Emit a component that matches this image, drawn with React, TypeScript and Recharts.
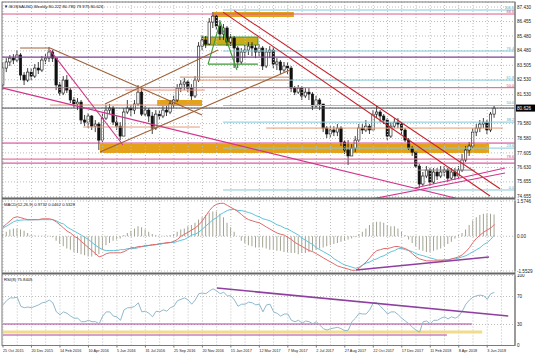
import React from "react";
import {
  Bar,
  CartesianGrid,
  ComposedChart,
  Line,
  ReferenceArea,
  ReferenceLine,
  XAxis,
  YAxis,
} from "recharts";

// weekly candles, index 0 = 25 Oct 2015
const firstOpen = 82.18;
const closes = [
  83.32, 83.73, 83.99, 83.86, 84.2, 82.85, 82.51, 83.05, 82.78, 83.32,
  83.19, 83.86, 83.99, 84.4, 83.99, 82.18, 81.64, 82.51, 81.84, 81.17,
  80.9, 81.03, 79.82, 79.68, 80.09, 79.41, 79.55, 78.47, 79.95, 80.49,
  80.63, 79.68, 79.41, 78.74, 80.36, 80.63, 80.49, 80.9, 81.7, 80.22,
  80.49, 80.09, 79.28, 80.22, 80.09, 80.49, 80.36, 80.9, 81.17, 81.97,
  82.24, 82.38, 81.97, 81.44, 82.51, 84.8, 85.21, 84.94, 86.42, 86.82,
  86.15, 85.61, 86.02, 85.07, 85.34, 84.67, 83.73, 84.4, 84.53, 84.8,
  84.67, 84.4, 84.67, 83.46, 84.4, 84.53, 83.59, 83.73, 83.19, 83.46,
  83.32, 81.97, 81.7, 81.97, 81.44, 81.7, 81.57, 80.76, 81.17, 80.9,
  79.28, 78.88, 79.15, 79.01, 79.28, 78.34, 77.8, 77.4, 77.93, 78.47,
  79.28, 79.15, 79.41, 79.15, 80.22, 80.36, 80.09, 79.82, 78.74, 79.41,
  79.68, 79.55, 79.15, 78.47, 77.93, 77.66, 76.72, 75.51, 76.05, 76.45,
  75.64, 76.32, 76.05, 76.32, 76.45, 75.91, 76.32, 76.05, 76.45, 77.13,
  77.8, 78.07, 79.01, 79.28, 79.55, 79.68, 79.15, 80.222, 80.626,
];
const highs = [
  83.73, 83.99, 84.2, 84.26, 84.53, 84.33, 83.05, 83.32, 83.32, 83.59,
  83.73, 84.13, 84.26, 84.74, 84.53, 83.99, 82.38, 82.78, 82.85, 81.97,
  81.37, 81.3, 81.17, 80.16, 80.29, 80.16, 79.82, 79.68, 80.36, 80.83,
  80.9, 80.76, 80.09, 79.68, 80.63, 81.17, 80.83, 81.17, 82.18, 81.97,
  80.76, 80.63, 80.36, 80.49, 80.49, 80.76, 80.76, 81.17, 81.44, 82.24,
  82.51, 82.65, 82.51, 82.24, 82.78, 85.07, 85.54, 85.48, 86.69, 87.09,
  86.96, 86.55, 86.29, 86.15, 85.61, 85.48, 84.8, 84.67, 84.87, 85.07,
  85.07, 84.87, 84.94, 84.8, 84.67, 84.8, 84.74, 83.99, 83.86, 83.73,
  83.73, 83.46, 82.11, 82.18, 82.11, 81.97, 81.97, 81.7, 81.44, 81.3,
  80.9, 79.41, 79.41, 79.41, 79.55, 79.41, 78.47, 78.47, 78.2, 78.74,
  79.55, 79.55, 79.82, 79.55, 80.49, 80.76, 80.49, 80.22, 79.95, 79.68,
  79.95, 79.95, 79.68, 79.28, 78.61, 78.07, 77.66, 76.86, 76.32, 76.72,
  76.59, 76.59, 76.59, 76.72, 76.72, 76.59, 76.59, 76.59, 76.72, 77.53,
  78.07, 78.34, 79.28, 79.55, 79.82, 79.95, 79.82, 80.36, 80.78,
];
const lows = [
  81.84, 83.05, 83.46, 83.59, 83.73, 82.51, 82.18, 82.38, 82.51, 82.65,
  82.92, 83.05, 83.59, 83.73, 83.73, 81.84, 81.44, 81.5, 81.64, 80.96,
  80.63, 80.49, 79.55, 79.41, 79.28, 79.15, 79.01, 77.8, 78.34, 79.82,
  80.22, 79.48, 79.15, 78.47, 78.74, 80.22, 80.09, 80.22, 80.76, 80.09,
  80.09, 79.68, 78.88, 79.15, 79.82, 79.95, 80.09, 80.22, 80.63, 81.03,
  81.7, 81.84, 81.7, 81.17, 81.3, 82.38, 84.53, 84.67, 84.87, 86.02,
  85.88, 85.21, 85.21, 84.8, 84.8, 83.32, 83.32, 83.59, 83.99, 84.2,
  84.13, 83.99, 84.13, 83.19, 83.32, 83.99, 83.32, 83.19, 82.92, 83.05,
  82.92, 81.7, 81.5, 81.57, 81.17, 81.3, 81.17, 80.49, 80.63, 80.49,
  79.01, 78.61, 78.61, 78.74, 78.74, 78.07, 77.53, 76.79, 77.4, 77.66,
  78.34, 78.88, 79.01, 78.88, 79.15, 79.95, 79.68, 79.55, 78.47, 78.61,
  79.28, 79.28, 78.88, 78.34, 77.8, 77.4, 76.59, 75.24, 75.38, 75.91,
  75.38, 75.51, 75.78, 75.91, 76.05, 75.64, 75.78, 75.78, 75.91, 76.32,
  76.99, 77.4, 77.93, 78.74, 79.01, 79.28, 78.88, 79.01, 79.975,
];

const macdLine = [
  0.41, 0.55, 0.69, 0.83, 0.87, 0.83, 0.78, 0.74, 0.74, 0.74,
  0.74, 0.78, 0.78, 0.78, 0.74, 0.64, 0.51, 0.37, 0.23, 0.14,
  0.0, -0.09, -0.23, -0.37, -0.51, -0.64, -0.78, -0.92, -0.87, -0.78,
  -0.74, -0.74, -0.74, -0.74, -0.69, -0.6, -0.51, -0.51, -0.46, -0.46,
  -0.41, -0.41, -0.37, -0.37, -0.32, -0.32, -0.28, -0.28, -0.23, -0.14,
  0.0, 0.09, 0.18, 0.28, 0.37, 0.51, 0.69, 0.92, 1.15, 1.33,
  1.43, 1.47, 1.47, 1.38, 1.29, 1.2, 1.1, 0.97, 0.83, 0.74,
  0.69, 0.64, 0.6, 0.51, 0.41, 0.32, 0.23, 0.14, 0.09, 0.05,
  -0.05, -0.14, -0.28, -0.37, -0.46, -0.55, -0.64, -0.69, -0.78, -0.87,
  -0.97, -1.06, -1.15, -1.24, -1.33, -1.38, -1.43, -1.47, -1.52, -1.52,
  -1.43, -1.29, -1.15, -0.97, -0.78, -0.64, -0.6, -0.55, -0.55, -0.51,
  -0.46, -0.46, -0.51, -0.55, -0.64, -0.78, -0.92, -1.01, -1.06, -1.1,
  -1.1, -1.1, -1.1, -1.1, -1.06, -1.06, -1.01, -0.97, -0.92, -0.83,
  -0.69, -0.51, -0.28, -0.09, 0.05, 0.18, 0.28, 0.37, 0.53,
];
const signalLine = [
  0.37, 0.45, 0.55, 0.65, 0.7, 0.72, 0.73, 0.73, 0.73, 0.74,
  0.74, 0.74, 0.74, 0.74, 0.74, 0.69, 0.6, 0.55, 0.41, 0.32,
  0.23, 0.14, 0.05, -0.05, -0.14, -0.28, -0.41, -0.51, -0.6, -0.64,
  -0.64, -0.64, -0.64, -0.6, -0.6, -0.55, -0.55, -0.55, -0.51, -0.46,
  -0.46, -0.41, -0.41, -0.37, -0.37, -0.32, -0.32, -0.28, -0.28, -0.23,
  -0.18, -0.14, -0.05, 0.05, 0.09, 0.18, 0.32, 0.46, 0.6, 0.74,
  0.83, 0.97, 1.06, 1.15, 1.2, 1.2, 1.15, 1.15, 1.1, 1.06,
  1.01, 0.92, 0.87, 0.78, 0.74, 0.69, 0.6, 0.51, 0.46, 0.37,
  0.32, 0.23, 0.14, 0.05, -0.09, -0.18, -0.28, -0.37, -0.51, -0.6,
  -0.69, -0.78, -0.87, -1.01, -1.1, -1.2, -1.29, -1.33, -1.38, -1.43,
  -1.38, -1.29, -1.2, -1.15, -1.06, -1.01, -0.92, -0.87, -0.78, -0.69,
  -0.64, -0.55, -0.55, -0.6, -0.64, -0.69, -0.78, -0.83, -0.87, -0.92,
  -0.97, -1.01, -1.06, -1.06, -1.06, -1.06, -1.01, -1.01, -0.97, -0.92,
  -0.87, -0.78, -0.69, -0.6, -0.51, -0.37, -0.28, -0.14, 0.05,
];
const macdHist = [
  0.1, 0.2, 0.3, 0.35, 0.35, 0.3, 0.25, 0.15, 0.05, 0.03,
  0.02, 0.02, 0.03, 0.02, -0.05, -0.2, -0.35, -0.45, -0.55, -0.6,
  -0.7, -0.75, -0.8, -0.85, -0.9, -0.9, -0.85, -0.8, -0.6, -0.4,
  -0.3, -0.2, -0.15, -0.1, 0.05, 0.15, 0.25, 0.35, 0.45, 0.4,
  0.3, 0.2, 0.1, 0.05, 0.02, 0.02, 0.03, 0.05, 0.1, 0.2,
  0.3, 0.35, 0.45, 0.5, 0.6, 0.75, 0.85, 0.95, 1.05, 1.1,
  1.1, 1.0, 0.85, 0.6, 0.4, 0.2, 0.0, -0.2, -0.3, -0.4,
  -0.45, -0.5, -0.5, -0.5, -0.55, -0.6, -0.6, -0.65, -0.65, -0.7,
  -0.7, -0.75, -0.75, -0.8, -0.75, -0.75, -0.7, -0.65, -0.6, -0.55,
  -0.5, -0.45, -0.4, -0.35, -0.3, -0.25, -0.2, -0.15, -0.1, -0.05,
  0.1, 0.2, 0.35, 0.5, 0.6, 0.65, 0.65, 0.6, 0.5, 0.45,
  0.45, 0.35, 0.2, 0.05, -0.15, -0.3, -0.45, -0.6, -0.65, -0.7,
  -0.7, -0.65, -0.6, -0.55, -0.45, -0.35, -0.25, -0.1, 0.05, 0.15,
  0.3, 0.5, 0.7, 0.85, 0.95, 1.0, 1.0, 1.0, 0.97,
];
const rsiLine = [
  58, 64, 68, 68, 69, 56, 54, 55, 54, 56,
  58, 61, 62, 65, 61, 48, 44, 48, 46, 42,
  39, 39, 34, 34, 36, 34, 34, 31, 42, 48,
  48, 42, 41, 36, 51, 54, 54, 56, 61, 48,
  49, 46, 41, 49, 48, 51, 49, 54, 56, 64,
  66, 68, 65, 59, 65, 74, 75, 74, 78, 81,
  78, 74, 76, 71, 71, 65, 56, 59, 59, 62,
  61, 58, 59, 48, 58, 59, 48, 46, 42, 45,
  45, 36, 34, 36, 32, 35, 34, 31, 34, 29,
  24, 22, 24, 25, 26, 24, 21, 22, 34, 39,
  46, 45, 45, 51, 61, 61, 56, 51, 45, 48,
  48, 44, 39, 35, 31, 26, 22, 19, 34, 35,
  31, 36, 36, 39, 41, 38, 41, 39, 42, 49,
  59, 65, 69, 71, 72, 71, 66, 74, 75.84,
];

const dateLabels = [
  "25 Oct 2015", "20 Dec 2015", "14 Feb 2016", "10 Apr 2016", "5 Jun 2016",
  "31 Jul 2016", "25 Sep 2016", "20 Nov 2016", "15 Jan 2017", "12 Mar 2017",
  "7 May 2017", "2 Jul 2017", "27 Aug 2017", "22 Oct 2017", "17 Dec 2017",
  "11 Feb 2018", "8 Apr 2018", "3 Jun 2018",
];
const priceTicks = [
  87.43, 86.455, 85.48, 84.48, 83.505, 82.53, 81.53, 80.626, 79.58, 78.58,
  77.605, 76.63, 75.655, 74.655,
];
const macdTicks = [1.5746, 0, -1.5529];
const rsiTicks = [100, 70, 30, 0];
const lastPrice = 80.626;

// drawn objects on the price panel
const fibBlue = [
  { p: 87.23, t: "100.0" },
  { p: 84.47, t: "76.4" },
  { p: 82.51, t: "61.8" },
  { p: 80.8, t: "50.0" },
  { p: 79.68, t: "38.2" },
  { p: 77.93, t: "23.6" },
  { p: 75.11, t: "0.0" },
];
const fibPink = [
  { p: 86.96, t: "88.6" },
  { p: 82.0, t: "50.0" },
  { p: 77.19, t: "78.6" },
];
const levels = [
  { p: 84.06, from: -0.3, to: 144, color: "#7b3f98", w: 1.4 },
  { p: 78.27, from: -0.3, to: 144, color: "#d2358c", w: 1 },
  { p: 76.92, from: -0.3, to: 144, color: "#d2358c", w: 1 },
  { p: 79.28, from: 73.9, to: 140.4, color: "#e39a78", w: 1 },
  { p: 79.35, from: 22.5, to: 55.3, color: "#e39a78", w: 1 },
  { p: 80.83, from: 13.2, to: 55.3, color: "#e39a78", w: 1 },
  { p: 82.71, from: 49.7, to: 80.6, color: "#c98a6a", w: 1 },
  { p: 82.51, from: 53.9, to: 80.6, color: "#e39a78", w: 1 },
  { p: 81.84, from: 34.3, to: 56.7, color: "#e39a78", w: 1 },
  { p: 84.67, from: 4.8, to: 13.2, color: "#a0623a", w: 1 },
  { p: 76.45, from: 116.6, to: 132.6, color: "#8a8a8a", w: 1 },
  { p: 83.59, from: 57.6, to: 71.6, color: "#3c9a34", w: 1.2 },
];
const zones = [
  { x1: 59.0, x2: 81.7, y1: 86.76, y2: 87.09, fill: "#e3a21a", stroke: "none" },
  { x1: 55.9, x2: 71.6, y1: 84.87, y2: 85.41, fill: "#c9ac1c", stroke: "#3c9a34" },
  { x1: 43.3, x2: 55.9, y1: 80.76, y2: 81.17, fill: "#e3a21a", stroke: "none" },
  { x1: 27.25, x2: 136.5, y1: 77.6, y2: 78.2, fill: "#e3a21a", stroke: "none" },
];
const trendLines = [
  { a: [0, 81.97], b: [127, 74.57], color: "#d2358c" },
  { a: [13.2, 84.53], b: [33.7, 78.14], color: "#d2358c" },
  { a: [13.2, 84.67], b: [55.9, 80.16], color: "#a0623a" },
  { a: [27.25, 77.66], b: [80.6, 83.19], color: "#a0623a" },
  { a: [28.65, 80.9], b: [60.4, 84.53], color: "#a0623a" },
  { a: [64.9, 87.19], b: [139.6, 75.19], color: "#c8202a" },
  { a: [61.8, 87.09], b: [136.8, 74.7], color: "#c8202a" },
  { a: [102, 74.43], b: [141, 76.25], color: "#d2358c" },
  { a: [115.7, 75.24], b: [141, 76.59], color: "#d2358c" },
  { a: [57.6, 83.59], b: [61, 86.42], color: "#3c9a34" },
  { a: [61, 86.42], b: [65.7, 83.19], color: "#3c9a34" },
];
const macdTrend = { a: [99.2, -1.51], b: [136.5, -0.93] };
const rsiTrend = { a: [60.1, 82.1], b: [141.9, 42.1] };
const rsiLevels = [
  { v: 30.7, to: 131.7, color: "#b0409a", w: 1.2 },
  { v: 19.3, to: 134.6, color: "#f2dc8a", w: 3 },
  { v: 15, to: 124.7, color: "#b0409a", w: 1.2 },
];

const X_DOMAIN: [number, number] = [-0.28, 143.8];
const gridWeeks = Array.from({ length: 36 }, (_, k) => k * 4);

const rows = closes.map((c, i) => {
  const o = i === 0 ? firstOpen : closes[i - 1];
  return {
    i,
    open: o,
    close: c,
    high: Math.max(highs[i], o, c),
    low: Math.min(lows[i], o, c),
    macd: macdLine[i],
    signal: signalLine[i],
    hist: macdHist[i],
    rsi: rsiLine[i],
  };
});

const Candle = (props: any) => {
  const { x, y, width, height, payload } = props;
  const top = height < 0 ? y + height : y;
  const h = Math.abs(height);
  const { open, close, high, low } = payload;
  const k = h / (high - low || 1);
  const cx = x + width / 2;
  const bTop = top + (high - Math.max(open, close)) * k;
  const bBot = top + (high - Math.min(open, close)) * k;
  const up = close >= open;
  return (
    <g>
      <line x1={cx} x2={cx} y1={top} y2={top + h} stroke="#111" strokeWidth={0.8} />
      <rect
        x={cx - 1.2}
        y={bTop}
        width={2.4}
        height={Math.max(bBot - bTop, 0.6)}
        fill={up ? "#fff" : "#111"}
        stroke="#111"
        strokeWidth={0.6}
      />
    </g>
  );
};

const PriceTick = ({ x, y, payload }: any) => {
  const v = payload.value;
  if (v === lastPrice) {
    return (
      <g>
        <rect x={x - 1} y={y - 3.5} width={19} height={7} fill="#000" />
        <text x={x} y={y + 1.6} fontSize={4.6} fill="#fff">
          {v.toFixed(3)}
        </text>
      </g>
    );
  }
  return (
    <text x={x} y={y + 1.6} fontSize={4.6} fill="#222">
      {v.toFixed(3)}
    </text>
  );
};

const SideTick = ({ x, y, payload, fmt }: any) => (
  <text x={x} y={y + 1.6} fontSize={4.6} fill="#222">
    {fmt(payload.value)}
  </text>
);

const DateTick = ({ x, y, payload }: any) => (
  <text x={x} y={y + 4} fontSize={3.8} fill="#222">
    {dateLabels[payload.value / 8]}
  </text>
);

const vGrid = (key: string) =>
  gridWeeks.map((w) => (
    <ReferenceLine
      key={key + w}
      x={w}
      stroke="#bdbdbd"
      strokeDasharray="1 2"
      ifOverflow="hidden"
    />
  ));

const App = () => {
  return (
    <div
      style={{
        position: "absolute",
        left: 0,
        top: 0,
        width: 536,
        height: 358,
        background: "#fff",
        fontFamily: "'Liberation Sans', Arial, sans-serif",
      }}
    >
      <div style={{ position: "absolute", left: 0, top: 0 }}>
        <ComposedChart
          width={536}
          height={199}
          data={rows}
          margin={{ top: 2, right: 0, bottom: 1, left: 2 }}
        >
          <CartesianGrid vertical={false} stroke="#bdbdbd" strokeDasharray="1 2" />
          {vGrid("p")}
          <XAxis type="number" dataKey="i" domain={X_DOMAIN} allowDataOverflow hide />
          <YAxis
            orientation="right"
            type="number"
            domain={[74.57, 87.77]}
            allowDataOverflow
            ticks={priceTicks}
            interval={0}
            width={21}
            tickLine={false}
            tickSize={1}
            tickMargin={1}
            axisLine={{ stroke: "#777" }}
            tick={<PriceTick />}
          />
          {zones.map((z, k) => (
            <ReferenceArea
              key={"z" + k}
              x1={z.x1}
              x2={z.x2}
              y1={z.y1}
              y2={z.y2}
              fill={z.fill}
              fillOpacity={1}
              stroke={z.stroke}
              ifOverflow="hidden"
            />
          ))}
          {fibBlue.map((f) => (
            <ReferenceLine
              key={"fb" + f.t}
              segment={[
                { x: 61.8, y: f.p },
                { x: 143.8, y: f.p },
              ]}
              stroke="#86c9d8"
              ifOverflow="hidden"
              label={{ value: f.t, position: "insideBottomRight", fontSize: 3.8, fill: "#5aa8bd", offset: 1 }}
            />
          ))}
          {fibPink.map((f) => (
            <ReferenceLine
              key={"fp" + f.t}
              y={f.p}
              stroke="#de5b86"
              ifOverflow="hidden"
              label={{ value: f.t, position: "insideBottomRight", fontSize: 3.8, fill: "#d24a78", offset: 1 }}
            />
          ))}
          {levels.map((l, k) => (
            <ReferenceLine
              key={"l" + k}
              segment={[
                { x: l.from, y: l.p },
                { x: l.to, y: l.p },
              ]}
              stroke={l.color}
              strokeWidth={l.w}
              ifOverflow="hidden"
            />
          ))}
          <ReferenceLine y={lastPrice} stroke="#4a4a55" ifOverflow="hidden" />
          {trendLines.map((t, k) => (
            <ReferenceLine
              key={"t" + k}
              segment={[
                { x: t.a[0], y: t.a[1] },
                { x: t.b[0], y: t.b[1] },
              ]}
              stroke={t.color}
              strokeWidth={1.1}
              ifOverflow="hidden"
            />
          ))}
          <Bar
            dataKey={(d: any) => [d.low, d.high]}
            barSize={3}
            shape={<Candle />}
            isAnimationActive={false}
          />
        </ComposedChart>
      </div>

      <div style={{ position: "absolute", left: 0, top: 199 }}>
        <ComposedChart
          width={536}
          height={75}
          data={rows}
          margin={{ top: 2, right: 0, bottom: 3, left: 2 }}
        >
          <CartesianGrid vertical={false} stroke="#bdbdbd" strokeDasharray="1 2" />
          {vGrid("m")}
          <XAxis type="number" dataKey="i" domain={X_DOMAIN} allowDataOverflow hide />
          <YAxis
            orientation="right"
            type="number"
            domain={[-1.5529, 1.5746]}
            allowDataOverflow
            ticks={macdTicks}
            interval={0}
            width={21}
            tickLine={false}
            tickSize={1}
            tickMargin={1}
            axisLine={{ stroke: "#777" }}
            tick={<SideTick fmt={(v: number) => (v === 0 ? "0.00" : v.toFixed(4))} />}
          />
          <Bar dataKey="hist" barSize={1} fill="#a3a393" isAnimationActive={false} />
          <Line
            type="linear"
            dataKey="signal"
            stroke="#5ec4dc"
            strokeWidth={1}
            dot={false}
            activeDot={false}
            isAnimationActive={false}
          />
          <Line
            type="linear"
            dataKey="macd"
            stroke="#e06a6a"
            strokeWidth={1}
            dot={false}
            activeDot={false}
            isAnimationActive={false}
          />
          <ReferenceLine
            segment={[
              { x: macdTrend.a[0], y: macdTrend.a[1] },
              { x: macdTrend.b[0], y: macdTrend.b[1] },
            ]}
            stroke="#8e3fa0"
            strokeWidth={1.6}
            ifOverflow="hidden"
          />
        </ComposedChart>
      </div>

      <div style={{ position: "absolute", left: 0, top: 274 }}>
        <ComposedChart
          width={536}
          height={84}
          data={rows}
          margin={{ top: 1.5, right: 0, bottom: 0, left: 2 }}
        >
          <CartesianGrid vertical={false} stroke="#bdbdbd" strokeDasharray="1 2" />
          {vGrid("r")}
          <XAxis
            type="number"
            dataKey="i"
            domain={X_DOMAIN}
            allowDataOverflow
            ticks={dateLabels.map((_, k) => k * 8)}
            interval={0}
            height={12.5}
            tickLine={{ stroke: "#777" }}
            tickSize={2}
            tickMargin={0}
            axisLine={{ stroke: "#777" }}
            tick={<DateTick />}
          />
          <YAxis
            orientation="right"
            type="number"
            domain={[0, 100]}
            allowDataOverflow
            ticks={rsiTicks}
            interval={0}
            width={21}
            tickLine={false}
            tickSize={1}
            tickMargin={1}
            axisLine={{ stroke: "#777" }}
            tick={<SideTick fmt={(v: number) => String(v)} />}
          />
          {rsiLevels.map((l, k) => (
            <ReferenceLine
              key={"rl" + k}
              segment={[
                { x: 0, y: l.v },
                { x: l.to, y: l.v },
              ]}
              stroke={l.color}
              strokeWidth={l.w}
              ifOverflow="hidden"
            />
          ))}
          <Line
            type="linear"
            dataKey="rsi"
            stroke="#8fb9cc"
            strokeWidth={1}
            dot={false}
            activeDot={false}
            isAnimationActive={false}
          />
          <ReferenceLine
            segment={[
              { x: rsiTrend.a[0], y: rsiTrend.a[1] },
              { x: rsiTrend.b[0], y: rsiTrend.b[1] },
            ]}
            stroke="#8e3fa0"
            strokeWidth={1.6}
            ifOverflow="hidden"
          />
        </ComposedChart>
      </div>

      <svg
        width={536}
        height={358}
        style={{ position: "absolute", left: 0, top: 0, pointerEvents: "none" }}
      >
        <rect x={2} y={2} width={513} height={343.5} fill="none" stroke="#7a7a7a" strokeWidth={1} />
        <line x1={2} x2={515} y1={198.5} y2={198.5} stroke="#666" strokeWidth={2} />
        <line x1={2} x2={515} y1={273.5} y2={273.5} stroke="#666" strokeWidth={2} />
        <text x={4} y={8} fontSize={4.2} fill="#111">
          ▼ BOSSAUSD,Weekly  80.222 80.780 79.975 80.626
        </text>
        <text x={4} y={206} fontSize={4.2} fill="#111">
          MACD(12,26,9) 0.9732 0.0462 0.5328
        </text>
        <text x={4} y={280.5} fontSize={4.2} fill="#111">
          RSI(8) 75.8405
        </text>
      </svg>
    </div>
  );
};

export default App;
